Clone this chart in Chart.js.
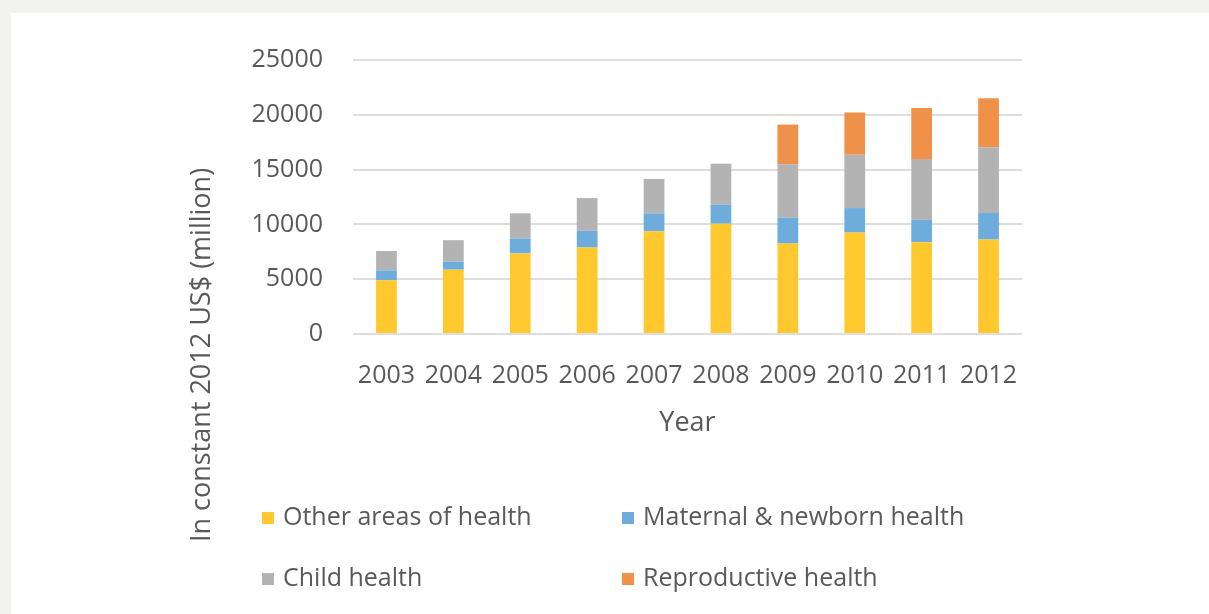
<!DOCTYPE html>
<html>
<head>
<meta charset="utf-8">
<script src="https://cdn.jsdelivr.net/npm/chart.js@4"></script>
<style>
  html, body { margin: 0; padding: 0; background: #f2f2f0; }
  #wrap { position: absolute; left: 0; top: 0; width: 1209px; height: 614px; }
</style>
</head>
<body>
<div id="wrap"><canvas id="myChart" width="1209" height="614"></canvas></div>
<script>
// setup
const years = ['2003', '2004', '2005', '2006', '2007', '2008', '2009', '2010', '2011', '2012'];
const otherAreas = [4900, 5870, 7350, 7890, 9380, 10070, 8250, 9250, 8380, 8620];
const maternalNewborn = [910, 750, 1360, 1540, 1630, 1720, 2360, 2240, 2050, 2420];
const childHealth = [1760, 1940, 2300, 2970, 3140, 3750, 4870, 4870, 5530, 5990];
const reproductive = [0, 0, 0, 0, 0, 0, 3630, 3840, 4660, 4470];
const yTicks = [0, 5000, 10000, 15000, 20000, 25000];

const textColor = '#595959';
const fontFamily = '"Open Sans", sans-serif';

const data = {
  labels: years,
  datasets: [
    { label: 'Other areas of health', data: otherAreas, backgroundColor: '#ffc82e' },
    { label: 'Maternal & newborn health', data: maternalNewborn, backgroundColor: '#6eaddb' },
    { label: 'Child health', data: childHealth, backgroundColor: '#b3b3b3' },
    { label: 'Reproductive health', data: reproductive, backgroundColor: '#f09149' }
  ]
};

// white panel, rotated y title and the two-column legend
const decor = {
  id: 'decor',
  beforeDraw(chart) {
    const ctx = chart.ctx;
    ctx.save();
    ctx.fillStyle = '#f2f2f0';
    ctx.fillRect(0, 0, chart.width, chart.height);
    ctx.fillStyle = '#ffffff';
    ctx.fillRect(11, 13, chart.width - 11, chart.height - 13);
    ctx.restore();
  },
  afterDraw(chart) {
    const ctx = chart.ctx;
    ctx.save();
    ctx.fillStyle = textColor;
    ctx.font = '27px ' + fontFamily;
    ctx.textAlign = 'center';
    ctx.textBaseline = 'middle';
    ctx.translate(202, 355);
    ctx.rotate(-Math.PI / 2);
    ctx.fillText('In constant 2012 US$ (million)', 0, 0);
    ctx.restore();

    const cols = [262, 622];
    const rows = [518, 579];
    ctx.save();
    ctx.font = '25px ' + fontFamily;
    ctx.textBaseline = 'middle';
    ctx.textAlign = 'left';
    chart.data.datasets.forEach((ds, i) => {
      const x = cols[i % 2];
      const y = rows[Math.floor(i / 2)];
      ctx.fillStyle = ds.backgroundColor;
      ctx.fillRect(x, y - 6, 12, 12);
      ctx.fillStyle = textColor;
      ctx.fillText(ds.label, x + 21, y);
    });
    ctx.restore();
  }
};

// config
const config = {
  type: 'bar',
  data,
  options: {
    responsive: false,
    animation: false,
    layout: { padding: { left: 240, right: 187, top: 60, bottom: 170 } },
    datasets: { bar: { barPercentage: 0.31, categoryPercentage: 1 } },
    plugins: {
      legend: { display: false },
      tooltip: { enabled: false }
    },
    scales: {
      x: {
        stacked: true,
        grid: { display: false },
        border: { display: false },
        ticks: { color: textColor, font: { family: fontFamily, size: 25 }, padding: 19, maxRotation: 0 },
        title: { display: true, text: 'Year', color: textColor, font: { family: fontFamily, size: 27 }, padding: { top: 0, bottom: 4 } },
        afterFit(scale) { scale.height = 110; }
      },
      y: {
        stacked: true,
        min: 0,
        max: 25000,
        afterBuildTicks(scale) { scale.ticks = yTicks.map(v => ({ value: v })); },
        grid: { color: '#dedede', lineWidth: 2, drawTicks: false },
        border: { display: false },
        ticks: {
          color: textColor,
          font: { family: fontFamily, size: 25 },
          padding: 30,
          callback: v => String(v)
        },
        afterFit(scale) { scale.width = 113; }
      }
    }
  },
  plugins: [decor]
};

// render init block
const myChart = new Chart(document.getElementById('myChart'), config);
</script>
</body>
</html>
